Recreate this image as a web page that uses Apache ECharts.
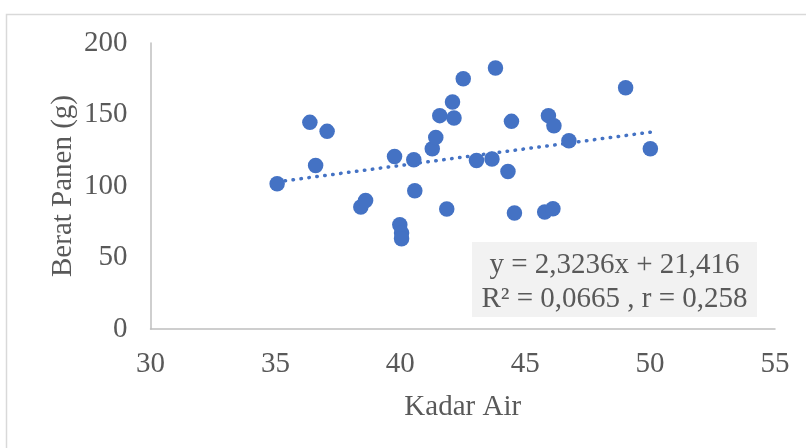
<!DOCTYPE html>
<html>
<head>
<meta charset="utf-8">
<script src="https://cdn.jsdelivr.net/npm/echarts@6/dist/echarts.min.js"></script>
<style>
  html, body { margin: 0; padding: 0; background: #fff; }
  #chart { width: 806px; height: 448px; }
</style>
</head>
<body>
<div id="chart"></div>
<script>
// data
const kadarAir = [35.07, 36.38, 37.07, 36.61, 38.42, 38.61, 39.77, 40.54, 40.58, 39.98, 40.05, 40.05,
  41.28, 41.42, 41.58, 42.09, 42.15, 41.86, 42.52, 43.81, 43.05, 43.67, 44.31, 44.45, 44.57,
  45.78, 46.11, 45.93, 46.15, 46.75, 49.02, 50.01]
const beratPanen = [101.6, 144.5, 138.2, 114.4, 85.3, 89.9, 120.7, 118.4, 96.7, 72.9, 67.1, 63.1,
  126.1, 134.0, 149.2, 158.7, 147.6, 83.9, 175.0, 182.5, 117.9, 118.9, 110.2, 145.2, 81.1,
  81.8, 84.1, 149.2, 142.2, 131.7, 168.7, 126.1]
const xTicks = [30, 35, 40, 45, 50, 55]
const yTicks = [0, 50, 100, 150, 200]
const slope = 2.3236
const intercept = 21.416
const eqLines = ['y = 2,3236x + 21,416', 'R² = 0,0665 , r = 0,258']

const points = kadarAir.map((x, i) => [x, beratPanen[i]])
const xMin = Math.min(...kadarAir)
const xMax = Math.max(...kadarAir)
const trend = [[xMin, slope * xMin + intercept], [xMax, slope * xMax + intercept]]

const font = 'Liberation Serif, Times New Roman, serif'
const grey = '#595959'

const myChart = echarts.init(document.getElementById('chart'))
myChart.setOption({
  animation: false,
  grid: { left: 150.5, right: 31, top: 43, bottom: 119 },
  xAxis: {
    type: 'value',
    min: xTicks[0],
    max: xTicks[xTicks.length - 1],
    interval: 5,
    name: 'Kadar Air',
    nameLocation: 'middle',
    nameGap: 64,
    nameTextStyle: { fontFamily: font, fontSize: 29, color: grey },
    axisLine: { show: true, lineStyle: { color: '#bfbfbf', width: 1.5 } },
    axisTick: { show: false },
    splitLine: { show: false },
    axisLabel: { fontFamily: font, fontSize: 29, color: grey, margin: 21 }
  },
  yAxis: {
    type: 'value',
    min: yTicks[0],
    max: yTicks[yTicks.length - 1],
    interval: 50,
    name: 'Berat Panen (g)',
    nameLocation: 'middle',
    nameGap: 73,
    nameMoveOverlap: false,
    nameTextStyle: { fontFamily: font, fontSize: 29, color: grey },
    axisLine: { show: true, lineStyle: { color: '#bfbfbf', width: 1.5 } },
    axisTick: { show: false },
    splitLine: { show: false },
    axisLabel: { fontFamily: font, fontSize: 29, color: grey, margin: 23 }
  },
  series: [
    {
      // garis tren
      type: 'line',
      data: trend,
      symbol: 'none',
      silent: true,
      lineStyle: { color: '#4472c4', width: 3.5, type: [0.5, 7.5], cap: 'round' },
      z: 1
    },
    {
      type: 'scatter',
      data: points,
      symbolSize: 15.5,
      itemStyle: { color: '#4472c4', opacity: 1 },
      z: 2
    }
  ],
  graphic: [
    {
      type: 'rect',
      shape: { x: 6.5, y: 14.5, width: 820, height: 460 },
      style: { fill: 'none', stroke: '#d9d9d9', lineWidth: 1.5 },
      silent: true
    },
    {
      type: 'rect',
      shape: { x: 472, y: 242, width: 285, height: 75 },
      style: { fill: '#f2f2f2' },
      z: 10
    },
    {
      type: 'text',
      x: 614.5,
      y: 265,
      style: { text: eqLines[0], fontFamily: font, fontSize: 29, fill: grey, align: 'center', verticalAlign: 'middle' },
      z: 11
    },
    {
      type: 'text',
      x: 614.5,
      y: 299,
      style: { text: eqLines[1], fontFamily: font, fontSize: 29, fill: grey, align: 'center', verticalAlign: 'middle' },
      z: 11
    }
  ]
})
</script>
</body>
</html>
